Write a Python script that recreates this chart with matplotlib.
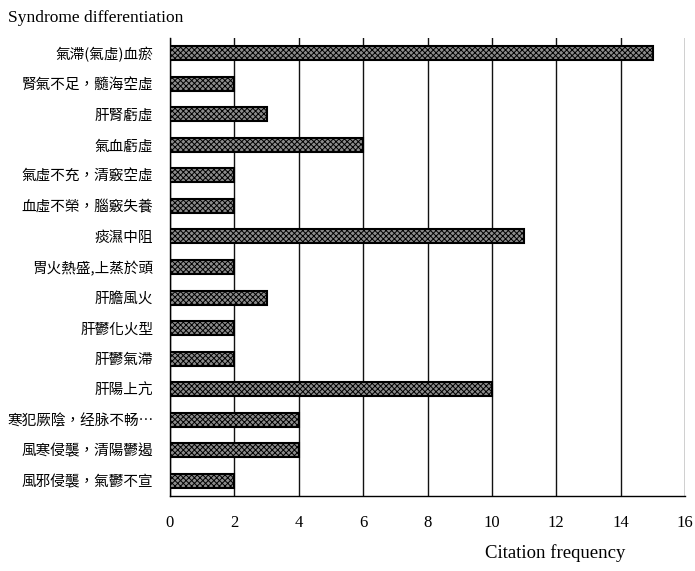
import matplotlib
matplotlib.use("Agg")
import matplotlib.pyplot as plt

categories = [
    "氣滯(氣虛)血瘀",
    "腎氣不足，髓海空虛",
    "肝腎虧虛",
    "氣血虧虛",
    "氣虛不充，清竅空虛",
    "血虛不榮，腦竅失養",
    "痰濕中阻",
    "胃火熱盛,上蒸於頭",
    "肝膽風火",
    "肝鬱化火型",
    "肝鬱氣滯",
    "肝陽上亢",
    "寒犯厥陰，经脉不畅…",
    "風寒侵襲，清陽鬱遏",
    "風邪侵襲，氣鬱不宣",
]
values = [15, 2, 3, 6, 2, 2, 11, 2, 3, 2, 2, 10, 4, 4, 2]
xticks = [0, 2, 4, 6, 8, 10, 12, 14, 16]

plt.rcParams['hatch.color'] = '#444444'
plt.rcParams['hatch.linewidth'] = 0.7

fig = plt.figure(figsize=(6.95, 5.71), dpi=100)
ax = fig.add_axes([170/695, 1-496/571, 515/695, 458/571])

y = list(range(len(categories)))
ax.barh(y, values, height=0.46, color='#8c8c8c', edgecolor='#000000',
        linewidth=1.5, hatch='xxxxxx', zorder=3)

ax.set_xlim(0, 16)
ax.set_ylim(14.5, -0.5)
ax.set_xticks(xticks)
ax.set_xticklabels([str(t) for t in xticks], fontfamily='Liberation Serif', fontsize=12)
ax.set_yticks(y)
ax.set_yticklabels(categories, fontfamily=['Noto Sans CJK TC', 'DejaVu Sans'], fontsize=10.5)
ax.tick_params(axis='y', length=0, pad=12)
ax.tick_params(axis='x', length=0, pad=14)
ax.xaxis.grid(True, color='#111111', linewidth=1.0, zorder=0)
ax.spines['top'].set_visible(False)
ax.spines['right'].set_visible(False)
ax.spines['left'].set_linewidth(1.0)
ax.spines['bottom'].set_linewidth(1.0)

fig.text(8/695, 1-18/571, "Syndrome differentiation", fontfamily='Liberation Serif',
         fontsize=12.5, va='center', ha='left')
fig.text(555/695, 1-553/571, "Citation frequency", fontfamily='Liberation Serif',
         fontsize=13.5, va='center', ha='center')

fig.savefig("out.png", dpi=100)
